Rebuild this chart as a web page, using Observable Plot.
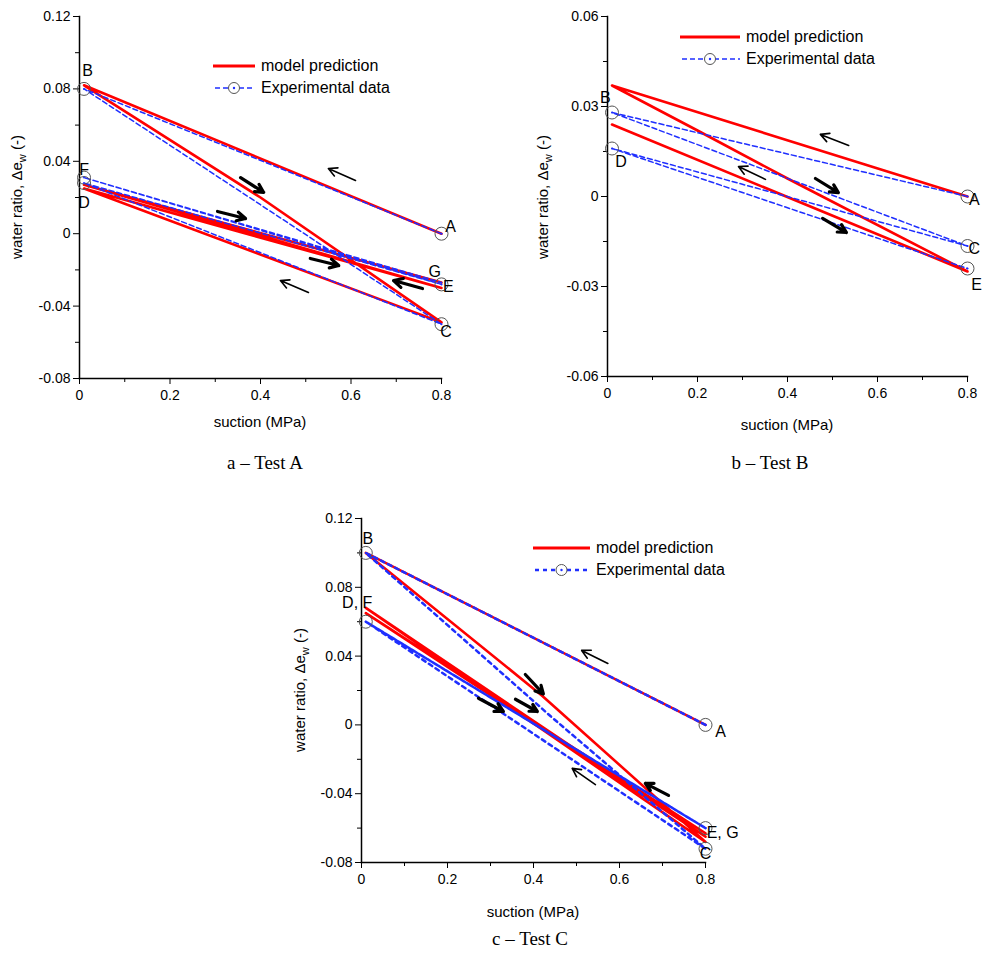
<!DOCTYPE html>
<html><head><meta charset="utf-8">
<script src="https://cdn.jsdelivr.net/npm/d3@7"></script>
<script src="https://cdn.jsdelivr.net/npm/@observablehq/plot@0.6"></script>
<style>
body{margin:0;background:#fff;font-family:"Liberation Sans",Arial,sans-serif}
#wrap{position:relative;width:988px;height:955px}
.panel,.lab,.cap,.leg{position:absolute}
.panel svg g[aria-label$="tick label"], .panel svg g[aria-label$="tick label"] text{font-size:14px !important}
.lab{font-size:15px;white-space:nowrap}
.ylab{transform:translate(-50%,-50%) rotate(-90deg)}
.xlab{transform:translateX(-50%)}
.cap{font-family:"Liberation Serif","Times New Roman",serif;font-size:19px;transform:translateX(-50%)}
</style></head><body><div id="wrap"></div>
<script>
// suction (MPa) / water ratio pairs along each test path
const modelA = [[0.8,0],[0.01,0.082],[0.4,0.02],[0.8,-0.049],[0.01,0.025],[0.8,-0.03],[0.01,0.027],[0.8,-0.027]];
const expA   = [[0.8,0],[0.01,0.08],[0.4,0.016],[0.8,-0.05],[0.01,0.028],[0.8,-0.028],[0.01,0.031],[0.8,-0.027]];
const modelB = [[0.8,0],[0.01,0.037],[0.2,0.022],[0.4,0.006],[0.8,-0.025],[0.01,0.024],[0.8,-0.025]];
const expB   = [[0.8,0],[0.01,0.028],[0.8,-0.0165],[0.01,0.016],[0.8,-0.024]];
const modelC = [[0.8,0],[0.01,0.1],[0.42,0.017],[0.8,-0.068],[0.01,0.068],[0.8,-0.065],[0.01,0.065],[0.8,-0.063]];
const expC   = [[0.8,0],[0.01,0.1],[0.44,0.005],[0.8,-0.072],[0.01,0.06],[0.8,-0.06],[0.01,0.06],[0.8,-0.06]];
// circles only at the turning points
const ptsA = [[0.8,0],[0.01,0.08],[0.8,-0.05],[0.01,0.028],[0.8,-0.028],[0.01,0.031]];
const ptsB = [[0.8,0],[0.01,0.028],[0.8,-0.0165],[0.01,0.016],[0.8,-0.024]];
const ptsC = [[0.8,0],[0.01,0.1],[0.8,-0.072],[0.01,0.06],[0.8,-0.06]];
// point labels [x, y, text, anchor]
const labA = [[0.82,0.004,"A","start"],[0.018,0.09,"B","start"],[0.81,-0.054,"C","start"],[0.01,0.017,"D","start"],[0.815,-0.0295,"E","start"],[0.01,0.035,"F","start"],[0.785,-0.021,"G","start"]];
const labB = [[0.815,-0.001,"A","start"],[-0.005,0.033,"B","end"],[0.815,-0.0175,"C","start"],[0.03,0.0115,"D","start"],[0.82,-0.0295,"E","start"]];
const labC = [[0.835,-0.004,"A","start"],[0.015,0.108,"B","start"],[0.8,-0.075,"C","start"],[-0.01,0.071,"D, F","end"],[0.84,-0.063,"E, G","start"]];
// arrows [x1,y1,x2,y2,bold]
const arrA = [[0.61,0.0294,0.55,0.036,0],[0.356,0.031,0.407,0.0228,1],[0.305,0.0123,0.367,0.0084,1],[0.51,-0.0137,0.573,-0.0176,1],[0.506,-0.0325,0.444,-0.0259,0],[0.758,-0.0303,0.694,-0.0259,1]];
const arrB = [[0.536,0.017,0.473,0.0207,0],[0.351,0.0057,0.291,0.01,0],[0.462,0.006,0.513,0.0013,1],[0.478,-0.0073,0.531,-0.012,1]];
const arrC = [[0.573,0.0357,0.512,0.0433,0],[0.381,0.0293,0.423,0.018,1],[0.358,0.0149,0.409,0.0078,1],[0.272,0.0155,0.33,0.0078,1],[0.544,-0.0347,0.49,-0.0253,0],[0.714,-0.041,0.66,-0.034,1]];

const wrap = document.getElementById("wrap");
const fmt = d => d === 0 ? "0" : d.toFixed(2);
const fmtx = d => d === 0 ? "0" : d.toFixed(1);

function panel(o) {
  const arrow = (data, bold) => Plot.arrow(data.filter(d => d[4] === bold), {
    x1: d => d[0], y1: d => d[1], x2: d => d[2], y2: d => d[3],
    stroke: "#000", strokeWidth: bold ? 3.2 : 1.6, headLength: bold ? 12 : 9, headAngle: 55});
  const chart = Plot.plot({
    width: o.w, height: o.h,
    marginLeft: o.ml, marginRight: o.mr, marginTop: o.mt, marginBottom: o.mb,
    style: {fontFamily: "Liberation Sans, Arial, sans-serif", color: "#000", overflow: "visible"},
    x: {domain: [0, 0.8]},
    y: {domain: o.ydom},
    marks: [
      Plot.axisY({ticks: o.yt, tickFormat: fmt, tickSize: 6, label: null}),
      Plot.axisY({ticks: o.ym, text: null, tickSize: 4, label: null}),
      Plot.axisX({ticks: [0,0.2,0.4,0.6,0.8], tickFormat: fmtx, tickSize: 6, tickPadding: 6, label: null}),
      Plot.axisX({ticks: [0.1,0.3,0.5,0.7], text: null, tickSize: 4, label: null}),
      Plot.frame({anchor: "left", strokeWidth: 1.5}),
      Plot.frame({anchor: "bottom", strokeWidth: 1.5}),
      Plot.line(o.model, {x: d => d[0], y: d => d[1], stroke: "#ff0000", strokeWidth: 2.6}),
      Plot.line(o.exp, {x: d => d[0], y: d => d[1], stroke: "#1f2fff", strokeWidth: o.ew, strokeDasharray: o.dash}),
      Plot.dot(o.pts, {x: d => d[0], y: d => d[1], r: 6.5, stroke: "#555", strokeWidth: 1}),
      Plot.dot(o.pts, {x: d => d[0], y: d => d[1], r: 1, fill: "#1f2fff"}),
      arrow(o.arr, 0),
      arrow(o.arr, 1),
      Plot.text(o.lab, {x: d => d[0], y: d => d[1], text: d => d[2], textAnchor: d => d[3], fontSize: 16})
    ]
  });
  const div = document.createElement("div");
  div.className = "panel";
  div.style.left = o.left + "px"; div.style.top = o.top + "px";
  div.appendChild(chart);
  wrap.appendChild(div);
  // legend
  const lg = document.createElement("div");
  lg.className = "leg";
  lg.style.left = o.lg[0] + "px"; lg.style.top = o.lg[1] + "px";
  const L = o.lg[2];
  lg.innerHTML = `<svg width="${L+200}" height="40" style="font-family:Liberation Sans,Arial;font-size:16px">
    <line x1="0" x2="${L}" y1="8" y2="8" stroke="#ff0000" stroke-width="3"/>
    <text x="${L+6}" y="13">model prediction</text>
    <line x1="2" x2="${L}" y1="30" y2="30" stroke="#1f2fff" stroke-width="${o.ew}" stroke-dasharray="${o.dash}"/>
    <circle cx="${L/2}" cy="30" r="5.5" fill="#fff" stroke="#555"/><circle cx="${L/2}" cy="30" r="1.2" fill="#1f2fff"/>
    <text x="${L+6}" y="35">Experimental data</text></svg>`;
  wrap.appendChild(lg);
  const add = (cls, x, y, html) => {
    const e = document.createElement("div"); e.className = cls;
    e.style.left = x + "px"; e.style.top = y + "px"; e.innerHTML = html; wrap.appendChild(e);
  };
  add("lab xlab", o.xl[0], o.xl[1], "suction (MPa)");
  add("lab ylab", o.yl[0], o.yl[1], "water ratio, &Delta;e<sub style='font-size:11px'>w</sub> (-)");
  add("cap", o.cap[0], o.cap[1], o.cap[2]);
}

panel({left: 0, top: 0, w: 480, h: 420, ml: 79, mr: 39, mt: 16, mb: 42,
  ydom: [-0.08, 0.12], yt: [-0.08,-0.04,0,0.04,0.08,0.12], ym: [-0.06,-0.02,0.02,0.06,0.1],
  model: modelA, exp: expA, pts: ptsA, lab: labA, arr: arrA, ew: 1.5, dash: "5,3",
  lg: [213, 58, 42], xl: [260, 413], yl: [18, 197], cap: [265, 452, "a – Test A"]});
panel({left: 520, top: 0, w: 468, h: 440, ml: 87, mr: 21, mt: 16, mb: 64,
  ydom: [-0.06, 0.06], yt: [-0.06,-0.03,0,0.03,0.06], ym: [-0.045,-0.015,0.015,0.045],
  model: modelB, exp: expB, pts: ptsB, lab: labB, arr: arrB, ew: 1.5, dash: "5,3",
  lg: [680, 29, 60], xl: [787, 416], yl: [544, 197], cap: [770, 452, "b – Test B"]});
panel({left: 290, top: 500, w: 480, h: 400, ml: 71, mr: 65, mt: 18, mb: 38,
  ydom: [-0.08, 0.12], yt: [-0.08,-0.04,0,0.04,0.08,0.12], ym: [-0.06,-0.02,0.02,0.06,0.1],
  model: modelC, exp: expC, pts: ptsC, lab: labC, arr: arrC, ew: 2.5, dash: "4,4",
  lg: [533, 540, 57], xl: [533, 903], yl: [301, 690], cap: [530, 928, "c – Test C"]});
</script></body></html>
